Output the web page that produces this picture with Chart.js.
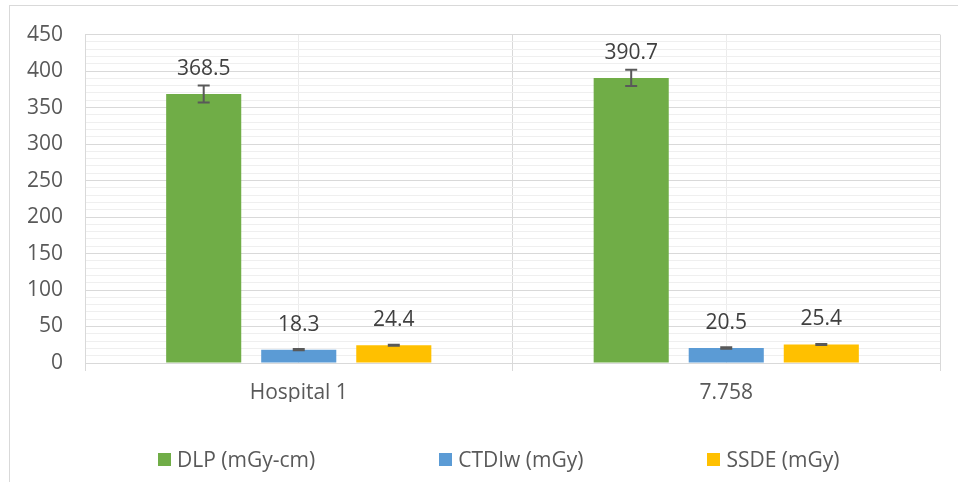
<!DOCTYPE html>
<html><head><meta charset="utf-8">
<script src="https://cdn.jsdelivr.net/npm/chart.js@4.4.0/dist/chart.umd.min.js"></script>
<style>
html,body{margin:0;padding:0;background:#fff;overflow:hidden}
#wrap{position:relative;width:958px;height:482px;overflow:hidden}
#frame{position:absolute;left:9px;top:5px;width:1000px;height:600px;border-top:1px solid #d9d9d9;border-left:1px solid #d9d9d9;}
#c{position:absolute;left:0;top:0}
#legend{position:absolute;left:158px;top:445px;display:flex;gap:124px;font:21px 'Open Sans';color:#595959;white-space:nowrap}
.item{display:flex;align-items:center;}
.sw{width:13px;height:13px;margin-right:6px;}
</style></head><body>
<div id="wrap"><div id="frame"></div><canvas id="c" width="958" height="482"></canvas><div id="legend"></div></div>
<script>
const categories = ['Hospital 1', '7.758'];
const seriesNames = ['DLP (mGy-cm)', 'CTDIw (mGy)', 'SSDE (mGy)'];
const seriesColors = ['#70AD47', '#5B9BD5', '#FFC000'];
const dlp = [368.5, 390.7];
const ctdiw = [18.3, 20.5];
const ssde = [24.4, 25.4];
const dlpErr = [11.6, 11.2];
const ctdiwErr = [1.0, 1.0];
const ssdeErr = [0.6, 0.6];
const yTickLabels = [0, 50, 100, 150, 200, 250, 300, 350, 400, 450];

const FONT = "'Open Sans', 'Noto Sans', sans-serif";
const TEXT = '#595959';

const seriesValues = [dlp, ctdiw, ssde];
const seriesErrors = [dlpErr, ctdiwErr, ssdeErr];

const errorBars = {
  id: 'errorBars',
  afterDatasetsDraw(chart) {
    const ctx = chart.ctx, y = chart.scales.y;
    chart.data.datasets.forEach((ds, i) => {
      const meta = chart.getDatasetMeta(i);
      meta.data.forEach((bar, j) => {
        const v = ds.data[j], e = ds.errors[j];
        const yt = y.getPixelForValue(v + e), yb = y.getPixelForValue(v - e);
        ctx.save();
        ctx.strokeStyle = '#595959';
        ctx.lineWidth = 2;
        ctx.beginPath();
        ctx.moveTo(bar.x, yt); ctx.lineTo(bar.x, yb);
        ctx.moveTo(bar.x - 6, yt); ctx.lineTo(bar.x + 6, yt);
        ctx.moveTo(bar.x - 6, yb); ctx.lineTo(bar.x + 6, yb);
        ctx.stroke();
        ctx.restore();
      });
    });
  }
};

const dataLabels = {
  id: 'dataLabels',
  afterDatasetsDraw(chart) {
    const ctx = chart.ctx;
    chart.data.datasets.forEach((ds, i) => {
      const meta = chart.getDatasetMeta(i);
      meta.data.forEach((bar, j) => {
        ctx.save();
        ctx.font = '21px ' + FONT;
        ctx.fillStyle = '#404040';
        ctx.textAlign = 'center';
        ctx.textBaseline = 'middle';
        ctx.fillText(ds.data[j].toFixed(1), bar.x, bar.y - 25);
        ctx.restore();
      });
    });
  }
};

new Chart(document.getElementById('c'), {
  type: 'bar',
  data: {
    labels: categories,
    datasets: seriesNames.map((n, i) => ({
      label: n,
      data: seriesValues[i],
      errors: seriesErrors[i],
      backgroundColor: seriesColors[i],
      categoryPercentage: 0.667,
      barPercentage: 0.79
    }))
  },
  options: {
    responsive: false,
    devicePixelRatio: 1,
    animation: false,
    layout: { padding: { top: 34, right: 18, left: 0, bottom: 80 } },
    plugins: { legend: { display: false }, tooltip: { enabled: false } },
    scales: {
      x: {
        type: 'category',
        offset: true,
        grid: { offset: true, color: '#d9d9d9', tickLength: 8, tickColor: '#d9d9d9' },
        border: { color: '#d9d9d9' },
        ticks: { color: TEXT, font: { family: FONT, size: 21 }, padding: 9 },
        afterFit(s) { s.height = 39; }
      },
      x2: {
        type: 'category',
        position: 'top',
        offset: true,
        grid: { offset: false, color: '#ececec', drawTicks: false },
        border: { display: false },
        ticks: { display: false },
        afterFit(s) { s.height = 0; }
      },
      y: {
        min: 0, max: 450,
        ticks: {
          stepSize: 10, autoSkip: false, color: TEXT, padding: 22,
          font: { family: FONT, size: 21 },
          callback: v => yTickLabels.includes(v) ? String(v) : ''
        },
        grid: {
          drawTicks: false,
          color: c => (c.tick && yTickLabels.includes(c.tick.value)) ? '#d9d9d9' : '#efefef'
        },
        border: { color: '#d9d9d9' },
        afterFit(s) { s.width = 85; }
      }
    }
  },
  plugins: [errorBars, dataLabels]
});

const leg = document.getElementById('legend');
seriesNames.forEach((n, i) => {
  const it = document.createElement('div');
  it.className = 'item';
  const sw = document.createElement('span');
  sw.className = 'sw';
  sw.style.background = seriesColors[i];
  const t = document.createElement('span');
  t.textContent = n;
  it.appendChild(sw); it.appendChild(t);
  leg.appendChild(it);
});
</script>
</body></html>
